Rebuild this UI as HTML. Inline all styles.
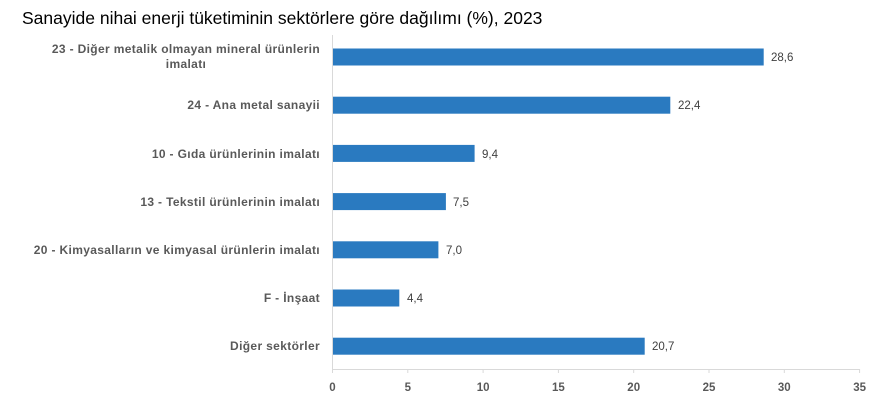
<!DOCTYPE html>
<html><head><meta charset="utf-8"><style>
body{margin:0;background:#fff;}
svg{display:block;font-family:"Liberation Sans",sans-serif;}
.l{font-size:12px;fill:#595959;font-weight:bold;text-anchor:end;letter-spacing:0.35px;}
.v{font-size:11.5px;fill:#404040;}
.t{font-size:11.5px;fill:#595959;font-weight:bold;text-anchor:middle;}
</style></head><body>
<svg width="883" height="407" viewBox="0 0 883 407">
<text x="22" y="24" font-size="17.5" fill="#000">Sanayide nihai enerji tüketiminin sektörlere göre dağılımı (%), 2023</text>
<line x1="332.5" y1="35" x2="332.5" y2="369" stroke="#d9d9d9"/>
<line x1="332" y1="369.5" x2="860" y2="369.5" stroke="#d9d9d9"/>
<g stroke="#d9d9d9">
<line x1="332.5" y1="369" x2="332.5" y2="373"/><line x1="407.8" y1="369" x2="407.8" y2="373"/><line x1="483.1" y1="369" x2="483.1" y2="373"/><line x1="558.4" y1="369" x2="558.4" y2="373"/><line x1="633.7" y1="369" x2="633.7" y2="373"/><line x1="709" y1="369" x2="709" y2="373"/><line x1="784.3" y1="369" x2="784.3" y2="373"/><line x1="859.6" y1="369" x2="859.6" y2="373"/>
</g>
<g class="t">
<text x="332.5" y="391">0</text><text x="407.8" y="391">5</text><text x="483.1" y="391">10</text><text x="558.4" y="391">15</text><text x="633.7" y="391">20</text><text x="709" y="391">25</text><text x="784.3" y="391">30</text><text x="859.6" y="391">35</text>
</g>
<g fill="#2a7ac0">
<rect x="333" y="48.5" width="430.7" height="17"/>
<rect x="333" y="96.7" width="337.3" height="17"/>
<rect x="333" y="144.9" width="141.6" height="17"/>
<rect x="333" y="193.1" width="112.9" height="17"/>
<rect x="333" y="241.3" width="105.4" height="17"/>
<rect x="333" y="289.5" width="66.3" height="17"/>
<rect x="333" y="337.7" width="311.7" height="17"/>
</g>
<g class="v">
<text x="771" y="61">28,6</text><text x="678" y="109">22,4</text><text x="482" y="158">9,4</text><text x="453" y="206">7,5</text><text x="446" y="254">7,0</text><text x="407" y="302">4,4</text><text x="652" y="350">20,7</text>
</g>
<g class="l">
<text x="320" y="53">23 - Diğer metalik olmayan mineral ürünlerin</text>
<text x="186" y="68" style="text-anchor:middle">imalatı</text>
<text x="320" y="109">24 - Ana metal sanayii</text>
<text x="320" y="158">10 - Gıda ürünlerinin imalatı</text>
<text x="320" y="206">13 - Tekstil ürünlerinin imalatı</text>
<text x="320" y="254">20 - Kimyasalların ve kimyasal ürünlerin imalatı</text>
<text x="320" y="302">F - İnşaat</text>
<text x="320" y="350">Diğer sektörler</text>
</g>
</svg>
</body></html>
